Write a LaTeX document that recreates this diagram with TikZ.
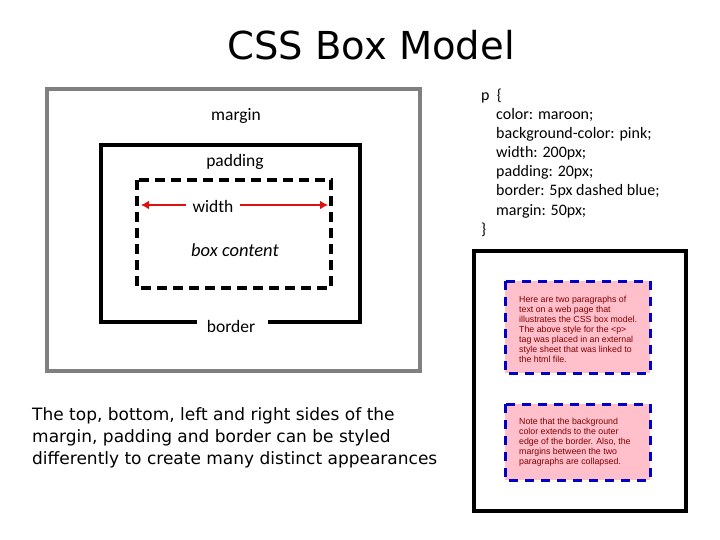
\documentclass[tikz,border=0pt]{standalone}
\usepackage{fontspec}
\usetikzlibrary{arrows.meta}
\setmainfont{Carlito}
\newfontfamily\comicfont{DejaVu Sans}
\newfontfamily\webfont{Liberation Sans}
\definecolor{cssPink}{HTML}{FFC0CB}
\definecolor{cssBlue}{HTML}{0000C8}
\definecolor{cssMaroon}{HTML}{800000}
\definecolor{arrowRed}{HTML}{DD1111}
\begin{document}
\begin{tikzpicture}[x=1pt,y=-1pt,
  lbl/.style={inner sep=1pt,font=\fontsize{17.5}{19}\selectfont},
  codeline/.style={anchor=west,inner sep=0pt,font=\fontsize{16}{18}\selectfont},
  para/.style={text=cssMaroon,font=\webfont\fontsize{8.8}{10}\selectfont,align=left,inner sep=0pt,anchor=north west},
  pinkbox/.style={fill=cssPink,draw=cssBlue,line width=3pt,dash pattern=on 9pt off 7pt}]
\useasboundingbox (0,0) rectangle (720,540);
% title
\node[font=\comicfont\fontsize{38.5}{42}\selectfont] (title) at (371,45) {CSS Box Model};
% diagram boxes
\draw[gray,line width=4pt] (47,89) rectangle (420,371);
\node[lbl] (margin) at (236,116) {margin};
\node[lbl] (padding) at (235,162) {padding};
\node[lbl] (border) at (231,326) {border};
\coordinate (bl) at (197,322);
\coordinate (br) at (268,322);
\draw[line width=4pt] (bl) -- (101,322) -- (101,145) -- (360,145) -- (360,322) -- (br);
\draw[line width=4pt,dash pattern=on 10pt off 6pt] (137,180) rectangle (331,288);
\node[lbl,inner xsep=6pt] (width) at (213,206) {width};
\node[lbl,font=\fontsize{18.5}{20}\selectfont\itshape] (content) at (235,250) {box content};
\coordinate (wl) at (141,205);
\coordinate (wr) at (328,205);
\draw[arrowRed,line width=2.5pt,-{Latex[length=8pt,width=9pt]}] (width.west |- wl) -- (wl);
\draw[arrowRed,line width=2.5pt,-{Latex[length=8pt,width=9pt]}] (width.east |- wr) -- (wr);
% bottom text
\node[anchor=north west,inner sep=0pt,align=left,font=\comicfont\fontsize{17}{22}\selectfont] (note) at (32,407)
  {The top, bottom, left and right sides of the\\margin, padding and border can be styled\\differently to create many distinct appearances};
% code
\node[codeline] (c0) at (481,96) {p\ \ \{};
\node[codeline] (c1) at (496,115) {color: maroon;};
\node[codeline] (c2) at (496,134) {background-color: pink;};
\node[codeline] (c3) at (496,153) {width: 200px;};
\node[codeline] (c4) at (496,172) {padding: 20px;};
\node[codeline] (c5) at (496,191) {border: 5px dashed blue;};
\node[codeline] (c6) at (496,211) {margin: 50px;};
\node[codeline] (c7) at (481,230) {\}};
% web page
\draw[line width=4pt] (474,251) rectangle (686,511);
\draw[pinkbox] (505,281) rectangle (650,373);
\node[para] (p1) at (519,296) {Here are two paragraphs of\\text on a web page that\\illustrates the CSS box model.\\The above style for the <p>\\tag was placed in an external\\style sheet that was linked to\\the html file.};
\draw[pinkbox] (505,404) rectangle (650,480);
\node[para] (p2) at (519,418) {Note that the background\\color extends to the outer\\edge of the border. Also, the\\margins between the two\\paragraphs are collapsed.};
\end{tikzpicture}
\end{document}
